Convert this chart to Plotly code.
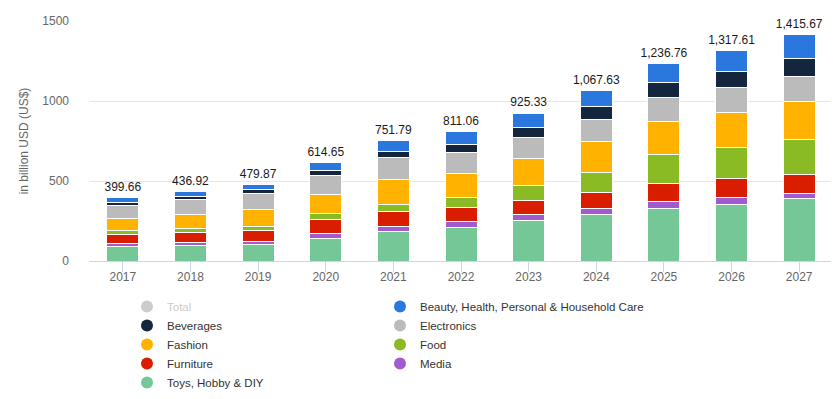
import plotly.graph_objects as go

years = ["2017", "2018", "2019", "2020", "2021", "2022", "2023", "2024", "2025", "2026", "2027"]
totals = [399.66, 436.92, 479.87, 614.65, 751.79, 811.06, 925.33, 1067.63, 1236.76, 1317.61, 1415.67]

toys = [92, 95, 105, 143, 187, 211, 254, 293, 331, 356, 388]
media = [19, 23, 19, 32, 31, 35, 38, 38, 38, 44, 33]
furniture = [56, 63, 69, 84, 94, 90, 88, 100, 113, 113, 121]
food = [25, 25, 25, 36, 44, 63, 94, 125, 184, 195, 219]
fashion = [75, 82, 101, 120, 151, 150, 164, 188, 205, 220, 235]
electronics = [83, 94, 101, 120, 139, 129, 132, 138, 151, 157, 157]
beverages = [17, 19, 25, 32, 38, 53, 63, 82, 94, 100, 115]
beauty = [33, 36, 35, 48, 68, 80, 92, 104, 121, 133, 148]

y_tick_vals = [0, 500, 1000, 1500]
y_tick_text = ["0", "500", "1000", "1500"]

stack = [
    ("Toys, Hobby & DIY", toys, "#76c797"),
    ("Media", media, "#a25bcf"),
    ("Furniture", furniture, "#d91e00"),
    ("Food", food, "#8bbb24"),
    ("Fashion", fashion, "#ffb300"),
    ("Electronics", electronics, "#bbbbbb"),
    ("Beverages", beverages, "#13263d"),
    ("Beauty, Health, Personal & Household Care", beauty, "#2a77dd"),
]
colors = {name: c for name, _, c in stack}
legend_col1 = ["Beverages", "Fashion", "Furniture", "Toys, Hobby & DIY"]
legend_col2 = ["Beauty, Health, Personal & Household Care", "Electronics", "Food", "Media"]

fig = go.Figure()
for name, vals, col in stack:
    fig.add_trace(go.Bar(
        x=years, y=vals, name=name,
        marker=dict(color=col, line=dict(color="#ffffff", width=1)),
        showlegend=False,
    ))

# total labels
fig.add_trace(go.Scatter(
    x=years, y=totals, mode="markers+text", text=[f"{v:,.2f}" for v in totals],
    marker=dict(size=4, color="rgba(0,0,0,0)"),
    textposition="top center", textfont=dict(size=12, color="#1a1a1a", family="Liberation Sans"),
    showlegend=False, hoverinfo="skip", cliponaxis=False,
))

# legend entries (circle symbols), two columns
fig.add_trace(go.Scatter(
    x=[None], y=[None], mode="markers", name="<span style='color:#cccccc'>Total</span>",
    marker=dict(color="#cccccc", size=12, symbol="circle"), legend="legend",
))
for name in legend_col1:
    fig.add_trace(go.Scatter(
        x=[None], y=[None], mode="markers", name=name, legend="legend",
        marker=dict(color=colors[name], size=12, symbol="circle"),
    ))
for name in legend_col2:
    fig.add_trace(go.Scatter(
        x=[None], y=[None], mode="markers", name=name, legend="legend2",
        marker=dict(color=colors[name], size=12, symbol="circle"),
    ))

# page has an 8px body margin; figure sized/offset to compensate
FIG_W, FIG_H = 831, 391
M_L, M_R, M_T, M_B = 81, 6, 12.5, 138
PLOT_W = FIG_W - M_L - M_R
PLOT_H = FIG_H - M_T - M_B
PLOT_B = FIG_H - M_B

leg_common = dict(
    orientation="v", yanchor="top", xanchor="left",
    font=dict(size=11.5, color="#333333", family="Liberation Sans"),
    traceorder="normal", itemclick=False, itemdoubleclick=False,
    bgcolor="rgba(0,0,0,0)",
)
leg_y = (PLOT_B - 284) / PLOT_H

fig.update_layout(
    width=FIG_W, height=FIG_H,
    margin=dict(l=M_L, r=M_R, t=M_T, b=M_B, autoexpand=False),
    barmode="stack", bargap=0.527,
    plot_bgcolor="#ffffff", paper_bgcolor="#ffffff",
    font=dict(family="Liberation Sans", size=12, color="#666666"),
    showlegend=True,
    legend=dict(x=(119 - M_L) / PLOT_W, y=leg_y, **leg_common),
    legend2=dict(x=(372 - M_L) / PLOT_W, y=leg_y, **leg_common),
    xaxis=dict(
        type="category", range=[-0.5, len(years) - 0.5],
        showline=True, linecolor="#ccd6eb", linewidth=1,
        ticks="outside", ticklen=10, tickcolor="#ccd6eb", tickwidth=1,
        tickfont=dict(size=12, color="#666666"), showgrid=False,
        ticklabelstandoff=-5,
    ),
    yaxis=dict(
        range=[0, 1500], tickvals=y_tick_vals, ticktext=y_tick_text,
        showgrid=True, gridcolor="#e6e6e6", gridwidth=1, zeroline=False,
        tickfont=dict(size=12, color="#666666"), ticklabelstandoff=19,
        title=dict(text="in billion USD (US$)", font=dict(size=12, color="#666666"), standoff=11),
    ),
)

fig.write_html("out.html")
